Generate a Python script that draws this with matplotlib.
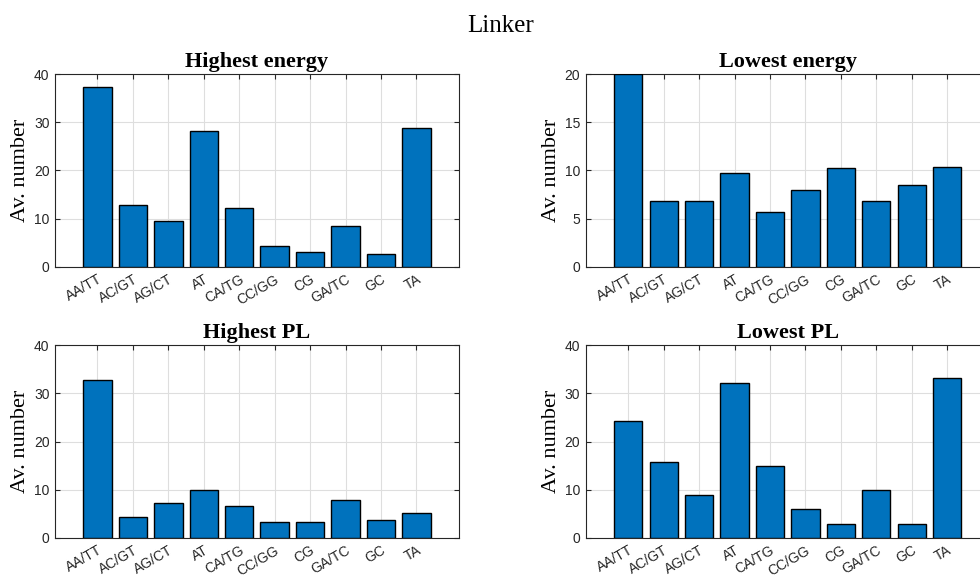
import numpy as np
import matplotlib
matplotlib.use("Agg")
import matplotlib.pyplot as plt

# dinucleotide steps on the x axis
steps = ["AA/TT", "AC/GT", "AG/CT", "AT", "CA/TG", "CC/GG", "CG", "GA/TC", "GC", "TA"]

# average counts
highest_energy = [37.3, 12.9, 9.6, 28.3, 12.1, 4.2, 3.1, 8.4, 2.7, 28.8]
lowest_energy = [20.0, 6.8, 6.8, 9.7, 5.7, 8.0, 10.3, 6.8, 8.5, 10.4]
highest_pl = [32.8, 4.2, 7.3, 9.9, 6.5, 3.3, 3.2, 7.9, 3.6, 5.2]
lowest_pl = [24.2, 15.8, 8.9, 32.2, 15.0, 5.9, 2.8, 10.0, 2.8, 33.2]

panels = [
    ("Highest energy", highest_energy, 40, 10),
    ("Lowest energy", lowest_energy, 20, 5),
    ("Highest PL", highest_pl, 40, 10),
    ("Lowest PL", lowest_pl, 40, 10),
]

# axes boxes in figure fractions (the right column runs past the figure edge)
lefts = [0.0561, 0.5977, 0.0561, 0.5977]
bottoms = [0.537, 0.537, 0.0665, 0.0665]
width, height = 0.4122, 0.334

serif = ["Liberation Serif", "DejaVu Serif"]
sans = ["Liberation Sans", "DejaVu Sans"]
dark = "#262626"

fig = plt.figure(figsize=(9.8, 5.76), dpi=100)
fig.text(0.511, 0.955, "Linker", ha="center", va="center", fontsize=18, family=serif)

x = np.arange(1, len(steps) + 1)
for (title, vals, ymax, ystep), l, b in zip(panels, lefts, bottoms):
    ax = fig.add_axes([l, b, width, height])
    ax.bar(x, vals, width=0.8, color="#0072BD", edgecolor="black", linewidth=1.0, zorder=3)
    ax.set_xlim(-0.2, 11.2)
    ax.set_ylim(0, ymax)
    ax.set_yticks(np.arange(0, ymax + 1, ystep))
    ax.set_xticks(x)
    ax.set_xticklabels(steps, rotation=30, ha="right", va="top", rotation_mode="anchor")
    ax.tick_params(direction="in", length=3.5, width=0.8, colors=dark, labelsize=10,
                   top=True, right=True, pad=4)
    for lab in ax.get_xticklabels() + ax.get_yticklabels():
        lab.set_family(sans)
    ax.grid(True, color="#dedede", linewidth=0.8, zorder=0)
    ax.set_axisbelow(True)
    for s in ax.spines.values():
        s.set_color(dark)
        s.set_linewidth(0.8)
    ax.set_title(title, fontsize=16, fontweight="bold", family=serif, pad=5)
    ax.set_ylabel("Av. number", fontsize=16, family=serif, va="center")
    ax.yaxis.set_label_coords(-0.086, 0.5)

fig.savefig("out.png", dpi=100)
